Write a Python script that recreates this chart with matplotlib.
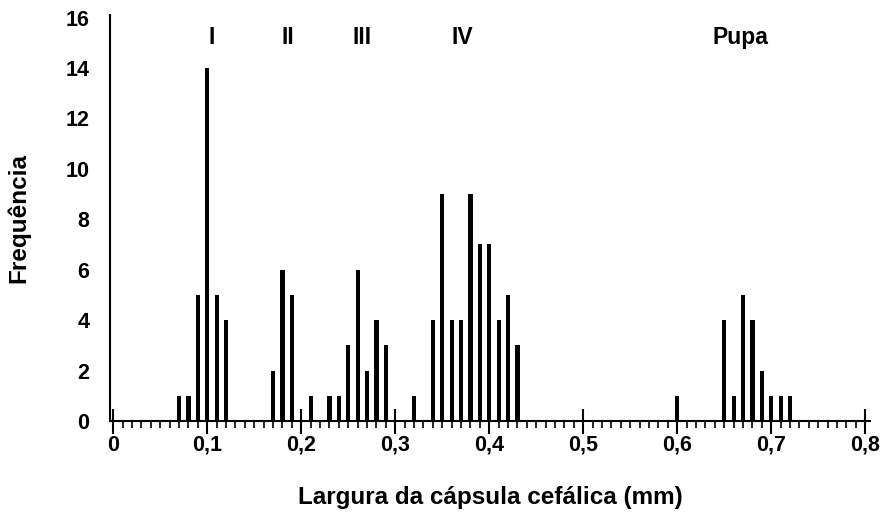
import matplotlib
matplotlib.use('Agg')
import matplotlib.pyplot as plt
from matplotlib.ticker import MultipleLocator

plt.rcParams['font.family'] = ['Liberation Sans', 'DejaVu Sans']
plt.rcParams['font.weight'] = 'bold'
plt.rcParams['axes.labelweight'] = 'bold'

# head capsule width (mm) and frequency
largura = [0.07, 0.08, 0.09, 0.10, 0.11, 0.12,
           0.17, 0.18, 0.19, 0.21,
           0.23, 0.24, 0.25, 0.26, 0.27, 0.28, 0.29, 0.32,
           0.34, 0.35, 0.36, 0.37, 0.38, 0.39, 0.40, 0.41, 0.42, 0.43,
           0.60,
           0.65, 0.66, 0.67, 0.68, 0.69, 0.70, 0.71, 0.72]
freq = [1, 1, 5, 14, 5, 4,
        2, 6, 5, 1,
        1, 1, 3, 6, 2, 4, 3, 1,
        4, 9, 4, 4, 9, 7, 7, 4, 5, 3,
        1,
        4, 1, 5, 4, 2, 1, 1, 1]

instar_labels = ['I', 'II', 'III', 'IV', 'Pupa']
instar_x = [0.105, 0.186, 0.265, 0.371, 0.667]

xticks = [0, 0.1, 0.2, 0.3, 0.4, 0.5, 0.6, 0.7, 0.8]
xticklabels = ['0', '0,1', '0,2', '0,3', '0,4', '0,5', '0,6', '0,7', '0,8']
yticks = list(range(0, 17, 2))

fig = plt.figure(figsize=(8.89, 5.15), dpi=100)
ax = fig.add_axes([110/889, 1-421/515, 760/889, 406/515])

ax.bar(largura, freq, width=0.0045, color='black')

ax.set_xlim(-0.0035, 0.805)
ax.set_ylim(0, 16.1)

ax.set_xticks(xticks)
ax.set_xticklabels(xticklabels)
ax.xaxis.set_minor_locator(MultipleLocator(0.01))
ax.set_yticks(yticks)

ax.tick_params(axis='x', which='major', direction='inout', length=18, width=1.5,
               labelsize=15.5, pad=1)
ax.tick_params(axis='x', which='minor', direction='out', length=5, width=1.2)
ax.tick_params(axis='y', which='major', length=0, labelsize=15.5, pad=15)

for sp in ['top', 'right']:
    ax.spines[sp].set_visible(False)
for sp in ['left', 'bottom']:
    ax.spines[sp].set_linewidth(1.5)

for lab, xx in zip(instar_labels, instar_x):
    ax.text(xx, 15.2, lab, ha='center', va='center', fontsize=16.5)

ax.set_xlabel('Largura da cápsula cefálica (mm)', fontsize=17.5, labelpad=22)
ax.set_ylabel('Frequência', fontsize=17.5, labelpad=25)

fig.savefig('out.png', dpi=100)
